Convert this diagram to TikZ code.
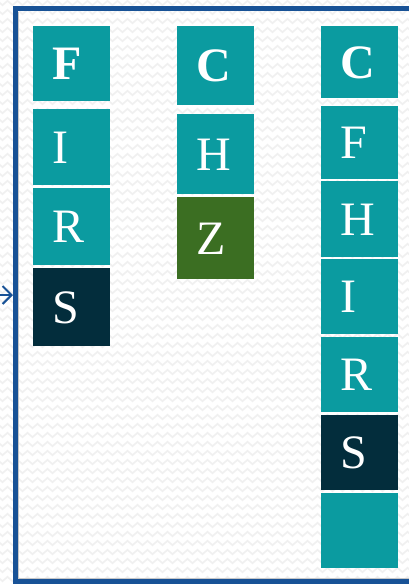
\documentclass[tikz,border=0pt]{standalone}
\usepackage{fontspec}
\setmainfont{Liberation Serif}
\usetikzlibrary{arrows.meta,decorations.pathmorphing}
\definecolor{tealbox}{RGB}{11,155,160}
\definecolor{darkbox}{RGB}{3,45,60}
\definecolor{greenbox}{RGB}{59,110,34}
\definecolor{frameblue}{RGB}{24,82,150}
\definecolor{patgray}{RGB}{240,240,240}
\tikzset{
  cell/.style={anchor=north west, fill=tealbox, text=white, minimum width=77pt,
    inner xsep=19pt, inner ysep=0pt, text width=39pt, align=left,
    text height=32pt, text depth=0pt, font=\fontsize{48}{50}\selectfont},
  darkcell/.style={cell, fill=darkbox},
  greencell/.style={cell, fill=greenbox},
  boldcell/.style={cell, font=\fontsize{48}{50}\selectfont\bfseries},
  framestyle/.style={draw=frameblue, line width=5pt},
  arrowstyle/.style={draw=frameblue, line width=2pt, -{Straight Barb[length=9pt,width=18pt]}},
}
\begin{document}
\begin{tikzpicture}[x=1pt,y=-1pt]
\useasboundingbox (0,0) rectangle (409,584);
\fill[white] (0,0) rectangle (409,584);
\begin{scope}
\clip (0,0) rectangle (409,584);
\foreach \yy in {3,12,...,588}{
  \draw[patgray, line width=1.6pt, decorate, decoration={zigzag, segment length=10pt, amplitude=2.2pt}] (-5,\yy) -- (420,\yy);
}
\draw[black!22, line width=1pt] (18.5,11.5) -- (18.5,578) -- (415,578);
\draw[framestyle] (15,8) rectangle (430,581);
\end{scope}
\coordinate (src) at (0,295);
\coordinate (fl) at (13,295);
\draw[arrowstyle] (src) -- (fl);
% column 1
\node[boldcell, minimum height=75pt] (a1) at (33,26) {F};
\node[cell, minimum height=76pt] (a2) at (33,109) {I};
\node[cell, minimum height=77pt] (a3) at (33,188) {R};
\node[darkcell, minimum height=78pt] (a4) at (33,268) {S};
% column 2
\node[boldcell, minimum height=79pt] (b1) at (177,26) {C};
\node[cell, minimum height=80pt] (b2) at (177,114) {H};
\node[greencell, minimum height=82pt] (b3) at (177,197) {Z};
% column 3
\node[boldcell, minimum height=72pt] (c1) at (321,26) {C};
\node[cell, minimum height=73pt] (c2) at (321,106) {F};
\node[cell, minimum height=76pt] (c3) at (321,181) {H};
\node[cell, minimum height=75pt] (c4) at (321,259) {I};
\node[cell, minimum height=75pt] (c5) at (321,337) {R};
\node[darkcell, minimum height=75pt] (c6) at (321,415) {S};
\node[cell, minimum height=75pt] (c7) at (321,493) {};
\end{tikzpicture}
\end{document}
